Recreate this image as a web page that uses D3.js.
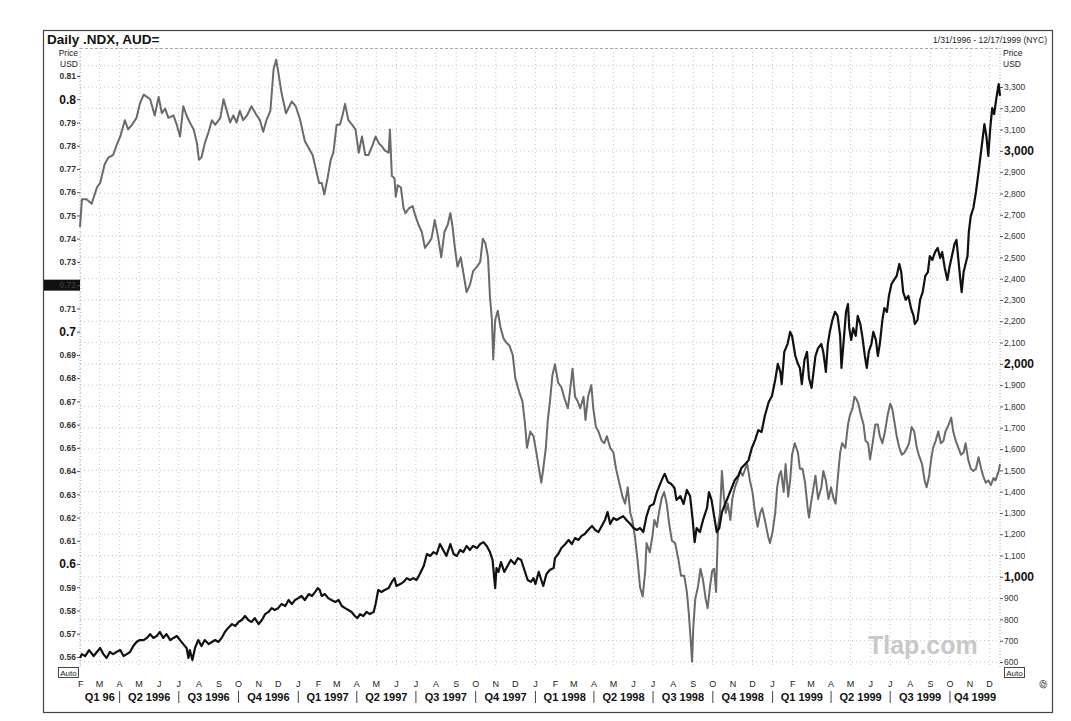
<!DOCTYPE html>
<html><head><meta charset="utf-8">
<script src="https://cdn.jsdelivr.net/npm/d3@7"></script>
<style>
body{margin:0;background:#fff;}
text{font-family:"Liberation Sans", Arial, sans-serif;}
</style>
</head><body>
<svg id="c" width="1071" height="721"></svg>
<script>
// ---- data ----
const startDate = "1996-01-31";
const endDate = "1999-12-17";
const titleText = "Daily .NDX, AUD=";
const rangeText = "1/31/1996 - 12/17/1999 (NYC)";

// AUD= (grey, left axis): days after 1996-01-31 and USD price
const audDay = [0,3,10,18,26,31,38,44,51,56,62,69,74,80,87,92,98,103,108,113,115,121,126,131,136,144,149,154,159,164,169,175,180,183,187,192,198,203,208,216,221,226,231,236,241,246,251,257,264,272,277,282,287,293,298,302,305,310,317,326,332,339,346,352,358,363,368,
372,376,381,386,390,395,400,404,408,413,419,424,429,434,439,444,450,455,460,464,469,475,477,480,484,486,489,494,498,501,506,512,516,521,526,531,536,541,546,551,556,561,566,570,573,577,581,586,592,595,600,605,611,616,620,624,628,631,634,636,639,643,647,652,657,661,666,670,676,681,685,688,693,698,703,707,710,713,717,720,723,727,731,
736,741,746,751,754,758,762,766,770,775,778,782,787,790,794,798,803,807,811,816,821,825,830,835,839,843,847,850,854,858,862,866,870,872,877,881,884,888,891,895,899,903,907,911,916,921,925,930,934,937,940,942,944,947,951,955,959,963,966,970,973,976,979,982,985,988,991,994,997,1001,1004,1008,1012,1016,1020,1024,1027,1031,1035,1039,1043,1047,1050,1054,1059,1062,1066,1070,1073,1076,1079,1083,1086,1090,1093,1096,1100,
1105,1108,1112,1116,1120,1122,1125,1129,1132,1136,1141,1144,1148,1152,1156,1160,1163,1166,1170,1173,1178,1182,1185,1189,1192,1195,1198,1202,1206,1209,1213,1216,1220,1224,1228,1231,1235,1239,1243,1247,1250,1253,1257,1261,1265,1269,1273,1276,1280,1284,1288,1291,1296,1300,1303,1307,1310,1313,1317,1321,1325,1329,1332,1337,1341,1344,1348,1352,1356,1360,1363,1367,1371,1375,1379,1383,1387,1390,1394,1398,1402,1406,1409,1414,1416];
const audValue = [0.745,0.757,0.757,0.755,0.762,0.764,0.772,0.775,0.776,0.780,0.784,0.791,0.787,0.789,0.792,0.798,0.802,0.801,0.800,0.795,0.793,0.801,0.794,0.796,0.792,0.793,0.789,0.784,0.797,0.793,0.790,0.787,0.781,0.774,0.775,0.781,0.786,0.791,0.789,0.792,0.800,0.795,0.790,0.793,0.790,0.795,0.791,0.793,0.797,0.793,0.791,0.786,0.791,0.795,0.813,0.817,0.812,0.803,0.794,0.799,0.797,0.791,0.782,0.779,0.776,0.770,0.764,
0.764,0.759,0.766,0.774,0.777,0.789,0.789,0.793,0.798,0.791,0.789,0.787,0.777,0.784,0.776,0.776,0.780,0.784,0.781,0.780,0.778,0.777,0.787,0.767,0.766,0.758,0.763,0.762,0.753,0.751,0.753,0.754,0.750,0.746,0.743,0.736,0.738,0.740,0.748,0.741,0.732,0.743,0.746,0.751,0.746,0.736,0.728,0.732,0.722,0.717,0.720,0.726,0.728,0.730,0.740,0.738,0.732,0.715,0.705,0.688,0.705,0.709,0.702,0.697,0.695,0.694,0.690,0.680,0.674,0.670,0.660,0.650,0.657,0.655,0.647,0.640,0.635,0.641,0.650,0.662,0.669,0.681,0.686,
0.678,0.676,0.671,0.667,0.674,0.684,0.672,0.670,0.667,0.672,0.662,0.672,0.677,0.667,0.659,0.657,0.653,0.652,0.655,0.650,0.648,0.641,0.635,0.629,0.626,0.633,0.622,0.619,0.612,0.602,0.590,0.586,0.597,0.609,0.605,0.612,0.619,0.616,0.622,0.628,0.631,0.626,0.617,0.610,0.609,0.602,0.595,0.595,0.588,0.579,0.567,0.558,0.573,0.585,0.590,0.598,0.593,0.585,0.581,0.591,0.597,0.598,0.588,0.616,0.622,0.640,0.629,0.622,0.626,0.619,0.628,0.633,0.636,0.640,0.638,0.641,0.643,0.636,0.631,0.622,0.616,0.622,0.624,0.619,0.612,0.609,0.614,0.622,0.633,0.638,0.640,0.631,0.643,0.629,0.636,0.647,0.652,
0.648,0.641,0.641,0.635,0.624,0.620,0.626,0.633,0.638,0.628,0.633,0.640,0.636,0.628,0.633,0.628,0.626,0.636,0.648,0.652,0.650,0.660,0.664,0.667,0.672,0.671,0.669,0.664,0.660,0.653,0.652,0.645,0.652,0.660,0.660,0.655,0.652,0.657,0.664,0.669,0.667,0.662,0.655,0.650,0.647,0.648,0.650,0.652,0.659,0.657,0.650,0.647,0.643,0.636,0.633,0.638,0.645,0.650,0.653,0.657,0.652,0.653,0.657,0.660,0.663,0.657,0.653,0.650,0.647,0.648,0.652,0.645,0.641,0.640,0.641,0.646,0.641,0.638,0.635,0.636,0.634,0.637,0.636,0.640,0.643];

// .NDX (black, right axis): days after 1996-01-31 and index level
const ndxDay = [0,3,8,14,21,26,31,36,41,46,51,56,62,67,72,77,82,87,92,98,103,108,113,118,123,128,133,139,144,149,154,159,164,167,169,173,177,182,187,192,198,203,208,213,218,223,228,234,239,244,249,254,259,264,269,275,280,285,290,295,300,305,310,316,321,326,331,336,341,346,352,357,362,366,369,
372,377,382,387,393,398,403,408,413,418,423,427,431,436,441,446,452,455,459,464,469,475,480,484,487,493,498,503,508,513,518,523,529,534,539,544,549,554,559,564,570,575,580,585,590,595,600,605,611,616,621,626,631,635,637,639,641,644,648,653,658,663,669,674,679,684,689,694,698,701,706,710,713,718,723,729,
731,736,741,747,752,757,762,767,772,777,782,788,793,798,803,808,812,816,821,826,831,836,841,847,852,857,862,867,872,877,883,888,893,898,900,905,910,915,918,924,929,934,939,943,946,949,954,959,965,968,972,976,980,984,988,993,998,1003,1008,1013,1018,1024,1029,1034,1039,1044,1049,1054,1060,1065,1070,1074,1078,1080,1084,1089,1093,1096,1101,
1105,1108,1111,1115,1119,1122,1126,1129,1132,1136,1141,1144,1148,1151,1154,1158,1162,1166,1170,1172,1175,1179,1182,1184,1187,1190,1194,1197,1201,1204,1208,1211,1214,1218,1221,1225,1228,1231,1235,1238,1242,1245,1249,1253,1257,1261,1264,1267,1271,1275,1279,1283,1285,1289,1293,1297,1301,1305,1308,1312,1316,1320,1324,1327,1331,1335,1338,1342,1346,1349,1352,1355,1357,1360,1363,1366,1368,1371,1375,1379,1383,1386,1389,1392,1395,1398,1401,1404,1407,1410,1414,1416];
const ndxValue = [619,637,628,656,628,647,666,637,619,647,637,647,656,628,637,647,675,694,703,703,713,731,713,722,741,713,731,703,713,722,703,684,666,619,656,609,666,703,675,703,684,694,703,694,713,741,760,778,769,788,797,816,797,788,806,778,797,825,835,853,844,853,872,863,891,872,891,900,910,891,919,910,929,947,938,
910,919,900,891,882,891,863,853,844,835,816,806,825,816,835,825,835,872,938,929,938,947,976,994,957,966,976,994,985,994,985,1013,1051,1107,1098,1116,1107,1154,1126,1098,1154,1107,1098,1126,1116,1145,1126,1145,1135,1154,1163,1145,1116,1079,1013,947,1041,1023,1069,1023,1051,1079,1060,1088,1079,1032,985,976,994,966,1023,985,957,1013,1032,1041,
1088,1107,1135,1154,1173,1154,1182,1173,1192,1201,1220,1239,1220,1210,1239,1267,1304,1248,1276,1267,1276,1285,1267,1248,1229,1220,1229,1210,1285,1332,1342,1398,1436,1473,1483,1445,1436,1417,1361,1379,1342,1408,1379,1267,1163,1229,1210,1267,1323,1398,1361,1285,1210,1229,1304,1342,1379,1417,1455,1473,1511,1530,1548,1605,1642,1689,1680,1755,1821,1849,1924,2000,1962,1905,2056,2093,2150,2131,2037,
2000,1981,1905,2018,2056,1934,1887,1962,2037,2074,2093,2056,1962,2093,2150,2206,2244,2225,2131,1981,2093,2244,2281,2168,2112,2168,2131,2225,2187,2131,2037,1981,2056,2093,2150,2112,2037,2093,2206,2262,2244,2319,2375,2394,2413,2469,2431,2337,2300,2319,2262,2225,2187,2206,2300,2337,2413,2431,2506,2488,2525,2544,2497,2525,2450,2394,2450,2506,2563,2582,2488,2394,2337,2431,2469,2506,2619,2694,2732,2807,2901,2976,3051,3126,3070,2976,3107,3201,3173,3239,3314,3258];

// axis tick values and labels
const leftTicks = [0.81,0.80,0.79,0.78,0.77,0.76,0.75,0.74,0.73,0.72,0.71,0.70,0.69,0.68,0.67,0.66,0.65,0.64,0.63,0.62,0.61,0.60,0.59,0.58,0.57,0.56];
const leftMajor = [0.80,0.70,0.60];
const leftCurrent = 0.72;
const rightTicks = [3300,3200,3100,3000,2900,2800,2700,2600,2500,2400,2300,2200,2100,2000,1900,1800,1700,1600,1500,1400,1300,1200,1100,1000,900,800,700,600];
const rightMajor = [3000,2000,1000];
const gridLevels = [600,700,800,900,1000,1100,1200,1300,1400,1500,1600,1700,1800,1900,2000,2100,2200,2300,2400,2500,2600,2700,2800,2900,3000,3100,3200,3300,3400];
const monthLetters = ["J","F","M","A","M","J","J","A","S","O","N","D"];
const quarterLabels = ["Q1 96","Q2 1996","Q3 1996","Q4 1996","Q1 1997","Q2 1997","Q3 1997","Q4 1997","Q1 1998","Q2 1998","Q3 1998","Q4 1998","Q1 1999","Q2 1999","Q3 1999","Q4 1999"];

// ---- drawing ----
const svg = d3.select("#c");
const W = 1071, H = 721;
const P = {l:80, r:1000, t:48, b:668};
const parse = d3.timeParse("%Y-%m-%d");
const t0 = parse(startDate), t1 = parse(endDate);

const x = d3.scaleTime().domain([t0, t1]).range([P.l, P.r]);
const yL = d3.scaleLinear().domain([0.56, 0.81]).range([657, 76]);
const yR = d3.scaleLinear().domain([600, 3300]).range([662, 87]);

svg.append("rect").attr("width", W).attr("height", H).attr("fill", "#fff");
svg.append("rect").attr("x", 43.5).attr("y", 30.5).attr("width", 1009).attr("height", 682)
  .attr("fill", "none").attr("stroke", "#444").attr("stroke-width", 1.2);

// grid
const months = d3.timeMonth.range(d3.timeMonth.ceil(t0), t1);
const grid = svg.append("g");
grid.selectAll("line.v").data(months).join("line")
  .attr("x1", d => x(d)).attr("x2", d => x(d)).attr("y1", P.t).attr("y2", P.b)
  .attr("stroke", "#b8b8b8").attr("stroke-width", 0.8).attr("stroke-dasharray", "1,3");
grid.selectAll("line.h").data(gridLevels).join("line")
  .attr("x1", P.l).attr("x2", P.r).attr("y1", d => yR(d)).attr("y2", d => yR(d))
  .attr("stroke", "#b8b8b8").attr("stroke-width", 0.8).attr("stroke-dasharray", "1,3");
grid.append("line").attr("x1", P.l).attr("x2", P.r).attr("y1", P.t + 0.5).attr("y2", P.t + 0.5)
  .attr("stroke", "#aaa").attr("stroke-dasharray", "3,2");
[P.l, P.r].forEach(px => grid.append("line").attr("x1", px).attr("x2", px).attr("y1", P.t).attr("y2", P.b)
  .attr("stroke", "#999").attr("stroke-width", 0.8).attr("stroke-dasharray", "1,2"));

// header
svg.append("text").attr("x", 47).attr("y", 44).attr("font-size", 13.5).attr("font-weight", "bold")
  .attr("fill", "#111").text(titleText);
svg.append("text").attr("x", 1047).attr("y", 43).attr("font-size", 8.5).attr("text-anchor", "end")
  .attr("fill", "#222").text(rangeText);
[["Price", 56], ["USD", 67]].forEach(([t, yy]) => {
  svg.append("text").attr("x", 78).attr("y", yy).attr("font-size", 8.5).attr("text-anchor", "end").attr("fill", "#222").text(t);
  svg.append("text").attr("x", 1003).attr("y", yy).attr("font-size", 8.5).attr("fill", "#222").text(t);
});

// current value marker on left axis
svg.append("rect").attr("x", 44).attr("y", yL(leftCurrent) - 5.5).attr("width", 36).attr("height", 11).attr("fill", "#111");

// left axis
const fmtL = d => String(+d.toFixed(2));
const isMajL = d => leftMajor.some(m => Math.abs(m - d) < 1e-9);
const axL = svg.append("g").attr("transform", `translate(${P.l},0)`)
  .call(d3.axisLeft(yL).tickValues(leftTicks).tickSize(3).tickPadding(1).tickFormat(fmtL));
axL.select(".domain").remove();
axL.selectAll(".tick line").attr("stroke", "#555");
axL.selectAll(".tick text")
  .attr("font-family", "'Liberation Sans', Arial, sans-serif")
  .attr("font-size", d => isMajL(d) ? 12 : 8.5)
  .attr("font-weight", "bold")
  .attr("fill", d => Math.abs(d - leftCurrent) < 1e-9 ? "#333" : (isMajL(d) ? "#111" : "#333"));

// right axis
const axR = svg.append("g").attr("transform", `translate(${P.r},0)`)
  .call(d3.axisRight(yR).tickValues(rightTicks).tickSize(3).tickPadding(1).tickFormat(d3.format(",")));
axR.select(".domain").remove();
axR.selectAll(".tick line").attr("stroke", "#555");
axR.selectAll(".tick text")
  .attr("font-family", "'Liberation Sans', Arial, sans-serif")
  .attr("font-size", d => rightMajor.includes(d) ? 12 : 8.5)
  .attr("font-weight", d => rightMajor.includes(d) ? "bold" : "normal")
  .attr("fill", d => rightMajor.includes(d) ? "#111" : "#333");

// Auto boxes
[58, 1004].forEach(bx => {
  svg.append("rect").attr("x", bx + 0.5).attr("y", 667.5).attr("width", 20).attr("height", 10)
    .attr("fill", "#fff").attr("stroke", "#333").attr("stroke-width", 0.9);
  svg.append("text").attr("x", bx + 10.5).attr("y", 675.5).attr("font-size", 8).attr("text-anchor", "middle")
    .attr("fill", "#222").text("Auto");
});

// watermark
svg.append("text").attr("x", 868).attr("y", 654).attr("font-size", 25).attr("font-weight", "bold").attr("fill", "#c8c8c8")
  .attr("font-family", "'Open Sans', 'DejaVu Sans', sans-serif").text("Tlap.com");

// series
const audData = audDay.map((d, i) => ({t: d3.timeDay.offset(t0, d), v: audValue[i]}));
const ndxData = ndxDay.map((d, i) => ({t: d3.timeDay.offset(t0, d), v: ndxValue[i]}));
svg.append("path").datum(audData)
  .attr("d", d3.line().x(d => x(d.t)).y(d => yL(d.v)))
  .attr("fill", "none").attr("stroke", "#6a6a6a").attr("stroke-width", 2).attr("stroke-linejoin", "round");
svg.append("path").datum(ndxData)
  .attr("d", d3.line().x(d => x(d.t)).y(d => yR(d.v)))
  .attr("fill", "none").attr("stroke", "#111").attr("stroke-width", 2.2).attr("stroke-linejoin", "round");

// month letters
svg.append("g").selectAll("text").data(months).join("text")
  .attr("x", d => x(d)).attr("y", 687).attr("font-size", 9).attr("text-anchor", "middle")
  .attr("fill", "#222").text(d => monthLetters[d.getMonth()]);

// quarter labels and separators
const qStarts = d3.timeMonth.every(3).range(d3.timeMonth.every(3).floor(t0), t1);
const qSep = qStarts.filter(d => d > t0);
svg.append("g").selectAll("line").data(qSep).join("line")
  .attr("x1", d => x(d)).attr("x2", d => x(d)).attr("y1", 691).attr("y2", 703)
  .attr("stroke", "#444").attr("stroke-width", 1);
svg.append("g").selectAll("text").data(qStarts).join("text")
  .attr("x", d => {
    const a = d < t0 ? t0 : d;
    const e = d3.timeMonth.offset(d, 3);
    const b = e > t1 ? t1 : e;
    return (x(a) + x(b)) / 2;
  })
  .attr("y", 701).attr("font-size", 11).attr("font-weight", "bold").attr("text-anchor", "middle")
  .attr("fill", "#111").text((d, i) => quarterLabels[i]);

// small corner glyph
svg.append("text").attr("x", 1043).attr("y", 687).attr("font-size", 9).attr("text-anchor", "middle")
  .attr("fill", "#333").attr("transform", "rotate(-60,1043,684)").text("@");
</script>
</body></html>
